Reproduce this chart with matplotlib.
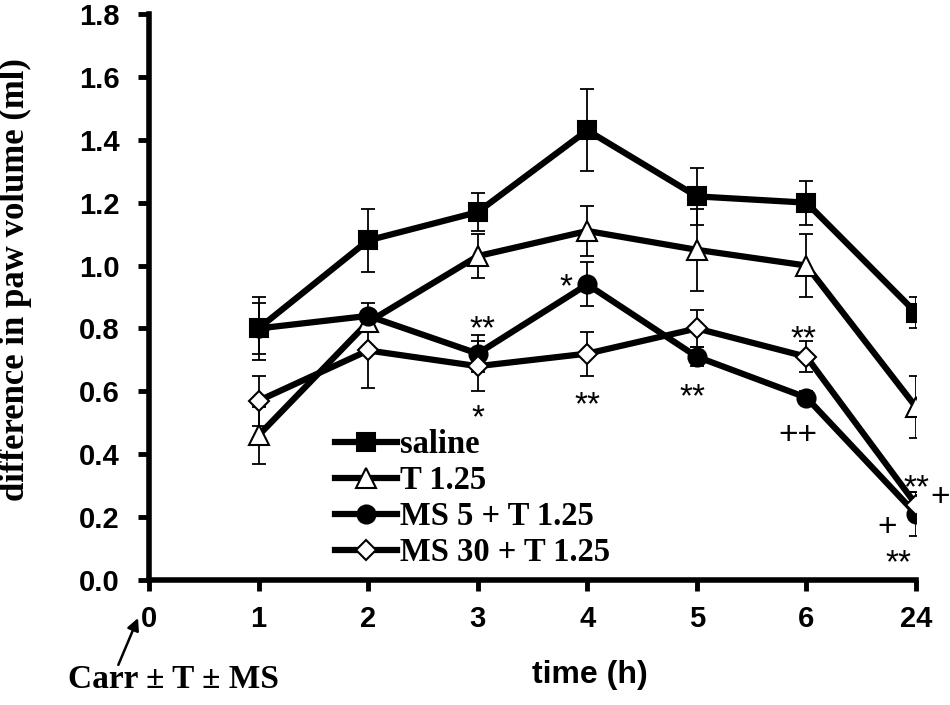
import matplotlib
matplotlib.use("Agg")
import matplotlib.pyplot as plt
import numpy as np

xlabels = ["0", "1", "2", "3", "4", "5", "6", "24"]
xpos = [1, 2, 3, 4, 5, 6, 7]

saline = [0.80, 1.08, 1.17, 1.43, 1.22, 1.20, 0.85]
saline_err = [0.10, 0.10, 0.06, 0.13, 0.09, 0.07, 0.05]
t125 = [0.46, 0.82, 1.03, 1.11, 1.05, 1.00, 0.55]
t125_err = [0.09, 0.03, 0.07, 0.08, 0.13, 0.10, 0.10]
ms5 = [0.80, 0.84, 0.72, 0.94, 0.71, 0.58, 0.21]
ms5_err = [0.08, 0.04, 0.06, 0.07, 0.03, 0.02, 0.07]
ms30 = [0.57, 0.73, 0.68, 0.72, 0.80, 0.71, 0.24]
ms30_err = [0.08, 0.12, 0.08, 0.07, 0.06, 0.05, 0.04]

# significance marks: (x, y, text)
marks_x = [3.04, 3.0, 3.805, 4.0, 4.96, 5.97, 5.92, 7.0, 7.22, 6.74, 6.84]
marks_y = [0.83, 0.547, 0.964, 0.588, 0.614, 0.80, 0.467, 0.324, 0.27, 0.175, 0.086]
marks_t = ["**", "*", "*", "**", "**", "**", "++", "**", "+", "+", "**"]

fig = plt.figure(figsize=(9.5, 7.05), dpi=100)
ax = fig.add_axes([149/950, 125/705, (916-149)/950, (580-14)/705])

serif = ["Liberation Serif", "DejaVu Serif"]
sans = ["Liberation Sans", "DejaVu Sans"]

series = [
    ("saline", saline, saline_err, "s", "black", 13),
    ("T 1.25", t125, t125_err, "^", "white", 14),
    ("MS 5 + T 1.25", ms5, ms5_err, "o", "black", 13),
    ("MS 30 + T 1.25", ms30, ms30_err, "D", "white", 10),
]
handles = []
for name, vals, err, mk, fc, ms in series:
    ax.errorbar(xpos, vals, yerr=err, fmt="none", ecolor="black", elinewidth=1.3,
                capsize=5, capthick=1.3, zorder=2)
    h, = ax.plot(xpos, vals, color="black", lw=4.5, marker=mk, markersize=ms,
                 markerfacecolor=fc, markeredgecolor="black", markeredgewidth=1.5,
                 label=name, zorder=3)
    handles.append(h)

ax.set_xlim(0, 7)
ax.set_ylim(0, 1.8)
ax.set_xticks(range(8))
ax.set_xticklabels(xlabels)
yt = np.arange(0, 1.81, 0.2)
ax.set_yticks(yt)
ax.set_yticklabels([f"{v:.1f}" for v in yt])
for lab in ax.get_xticklabels() + ax.get_yticklabels():
    lab.set_fontfamily(sans)
    lab.set_fontweight("bold")
    lab.set_fontsize(21)
ax.tick_params(axis="both", width=3.5, length=8, direction="out")
ax.tick_params(axis="y", pad=13)
ax.tick_params(axis="x", pad=10)
for s in ["top", "right"]:
    ax.spines[s].set_visible(False)
for s in ["left", "bottom"]:
    ax.spines[s].set_linewidth(4)

ax.set_ylabel("difference in paw volume (ml)", fontfamily=serif, fontweight="bold",
              fontsize=25)
ax.yaxis.set_label_coords(-0.153, 0.53)
ax.set_xlabel("time (h)", fontfamily=sans, fontweight="bold", fontsize=23)
ax.xaxis.set_label_coords(0.575, -0.141)

leg = ax.legend(handles=handles, loc="upper left", bbox_to_anchor=(0.2425, 0.266),
                frameon=False, prop={"family": serif, "weight": "bold", "size": 23.5},
                handlelength=1.9, handletextpad=0.09, labelspacing=0.15, borderpad=0,
                borderaxespad=0)

for x, y, t in zip(marks_x, marks_y, marks_t):
    off = 14 if "*" in t else 8
    ax.annotate(t, xy=(x, y), xytext=(0, -off), textcoords="offset points",
                ha="center", va="baseline", fontsize=24, fontfamily=sans,
                annotation_clip=False)

ax.text(0.22, -0.318, "Carr ± T ± MS", fontfamily=serif, fontweight="bold",
        fontsize=24, ha="center", va="center", clip_on=False)
ax.annotate("", xy=(-0.10, -0.121), xytext=(-0.28, -0.27), annotation_clip=False,
            arrowprops=dict(arrowstyle="-|>", color="black", lw=1.8, mutation_scale=18,
                            shrinkA=0, shrinkB=0))

fig.savefig("out.png", dpi=100)
